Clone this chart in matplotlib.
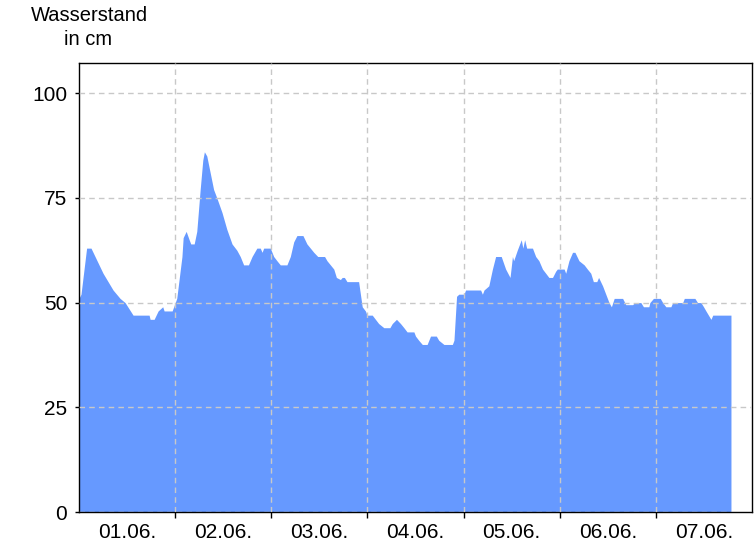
"""
Water level chart (Wasserstand) for one week in June.
"""

import matplotlib
matplotlib.use("Agg")
import matplotlib.pyplot as plt

plt.rcParams["font.family"] = ["Liberation Sans", "DejaVu Sans"]

# readings: hours since 01.06. 00:00 and level in cm
hours = [
    0, 0.5, 1.9, 3, 6, 8.5, 10.25, 11.5, 13.5, 17.5, 17.75, 18.75, 19.75, 20.9,
    21.25, 23.25, 24.4, 25.7, 26, 26.75, 27.5, 27.9, 28.75, 29.4, 30.25, 30.9,
    31.3, 31.9, 32.75, 33.6, 34.4, 35.7, 36.9, 38.2, 39.4, 40.25, 41.1, 42.3,
    43.2, 44.4, 45.25, 45.7, 46.1, 47.75, 48.6, 49.4, 50.25, 51.9, 52.75, 53.6,
    54.4, 55.9, 56.9, 57.75, 58.6, 59.6, 61.3, 61.9, 62.75, 63.6, 64.25, 65.25,
    65.7, 66.25, 66.9, 69.8, 70.7, 71.5, 71.9, 73.2, 74, 74.8, 76.1, 77.6, 78.2,
    79.25, 80.25, 81.1, 81.9, 83.6, 84, 84.8, 85.7, 86.9, 87.75, 89.2, 89.8,
    91.1, 93.2, 93.6, 94.25, 94.8, 96.1, 96.5, 100.25, 100.7, 101.1, 102.3,
    103.2, 104, 105.4, 106.5, 107.6, 108.2, 108.5, 109.4, 110.4, 110.8, 111.25,
    111.75, 113.2, 114, 114.8, 115.7, 116.5, 117.3, 118.2, 119, 119.4, 121.1,
    121.5, 122.3, 123.2, 123.8, 124.8, 126.1, 126.9, 127.75, 128.4, 129.25,
    129.7, 130.7, 131.5, 132.3, 132.9, 133.6, 135.7, 136.5, 138.2, 138.75,
    140.25, 140.9, 142.25, 142.5, 143.4, 145.1, 145.7, 146.5, 147.75, 148.2,
    150.7, 151.1, 153.75, 154.4, 155.25, 155.9, 156.5, 157.75, 158.2, 162.75,
]
level = [
    51, 52, 63, 63, 57, 53, 51, 50, 47, 47, 46, 46, 48, 49,
    48, 48, 51, 61, 65.5, 67, 65, 64, 64, 67, 77, 84,
    86, 85, 81, 77, 75, 71.5, 67.5, 64, 62.5, 61, 59, 59,
    61, 63, 63, 62, 63, 63, 61, 60, 59, 59, 61, 64.5,
    66, 66, 64, 63, 62, 61, 61, 60, 59, 58, 56, 55.5,
    56, 56, 55, 55, 49, 48, 47, 47, 46, 45, 44, 44, 45,
    46, 45, 44, 43, 43, 42, 41, 40, 40, 42, 42, 41,
    40, 40, 41, 51.5, 52, 52, 53, 53, 52, 53, 54,
    58, 61, 61, 58, 56, 61, 60, 62.5, 65, 63, 65,
    63, 63, 61, 60, 58, 57, 56, 56, 57.5, 58, 58,
    57, 60, 62, 62, 60, 59, 58, 57, 55, 55,
    56, 54, 52, 50, 49, 51, 51, 49.5, 49.5, 50,
    50, 49, 49, 50, 51, 51, 50, 49, 49, 50,
    50, 51, 51, 50, 50, 49, 48, 46, 47, 47,
]

y_ticks = [0, 25, 50, 75, 100]
day_labels = ["01.06.", "02.06.", "03.06.", "04.06.", "05.06.", "06.06.", "07.06."]

fig = plt.figure(figsize=(7.56, 5.46), dpi=100)
ax = fig.add_axes([79 / 756, 34 / 546, 673 / 756, 449 / 546])

ax.fill_between(hours, 0, level, color="#6699ff", linewidth=0, zorder=1)

ax.set_xlim(0, 168)
ax.set_ylim(0, 107.2)

# day boundaries carry ticks and grid, labels sit at mid-day
ax.set_xticks([24 * i for i in range(1, 7)])
ax.set_xticklabels([])
ax.set_xticks([24 * i + 12 for i in range(7)], minor=True)
ax.set_xticklabels(day_labels, minor=True, fontsize=15)
ax.tick_params(axis="x", which="major", length=4, direction="out", width=1)
ax.tick_params(axis="x", which="minor", length=0, pad=8)

ax.set_yticks(y_ticks)
ax.set_yticklabels([str(v) for v in y_ticks], fontsize=15)
ax.tick_params(axis="y", length=3, direction="out", width=1, pad=5.5)

ax.grid(True, which="major", color="#c8c8c8", linestyle=(0, (4, 3)), linewidth=1, zorder=2)
ax.set_axisbelow(False)

for spine in ax.spines.values():
    spine.set_linewidth(1)
    spine.set_color("black")

fig.text(89 / 756, 1 - 21 / 546, "Wasserstand", ha="center", va="baseline", fontsize=14.5)
fig.text(88 / 756, 1 - 45 / 546, "in cm", ha="center", va="baseline", fontsize=14.5)

fig.savefig("out.png", dpi=100)
